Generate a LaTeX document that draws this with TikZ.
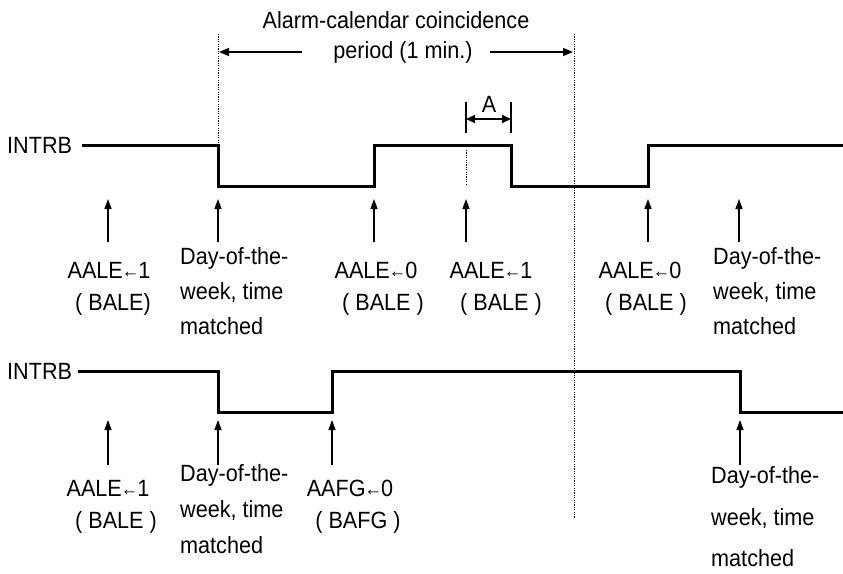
\documentclass[tikz,border=0pt]{standalone}
\usepackage{fontspec}
\setmainfont{Liberation Sans}[FakeStretch=0.92]
\usetikzlibrary{arrows.meta}
\newcommand\smallarrow{\kern-1pt{\fontsize{19}{19}\selectfont\raisebox{1pt}{←}}\kern-1pt}
\begin{document}
\begin{tikzpicture}[x=1pt,y=-1pt,
  wave/.style={line width=3pt},
  tick/.style={line width=1.4pt,-{Triangle[length=10pt,width=7pt]}},
  dim/.style={line width=1.7pt,-{Triangle[length=10pt,width=8pt]}},
  guide/.style={line width=0.9pt,dash pattern=on 1.2pt off 1.2pt},
  lbl/.style={font=\fontsize{23.5}{23.5}\selectfont, inner sep=0pt}]
\useasboundingbox (0,0) rectangle (843,573);

% ---------- header ----------
\node[lbl] (title1) at (396,20) {Alarm-calendar coincidence};
\node[lbl] (title2) at (403,52) {period (1 min.)};
\coordinate (g1t) at (218,34);
\coordinate (g1b) at (218,145);
\coordinate (g2t) at (574,34);
\coordinate (g2b) at (574,518);
\draw[guide] (g1t) -- (g1b);
\draw[guide] (g2t) -- (g2b);
\coordinate (pl) at (219,52);
\coordinate (pr) at (573,52);
\coordinate (pls) at (302,52);
\coordinate (prs) at (490,52);
\draw[dim] (pls) -- (pl);
\draw[dim] (prs) -- (pr);

% ---------- A dimension ----------
\coordinate (a1t) at (466,102); \coordinate (a1b) at (466,133);
\coordinate (a2t) at (511,102); \coordinate (a2b) at (511,133);
\draw[line width=1.4pt] (a1t) -- (a1b);
\draw[line width=1.4pt] (a2t) -- (a2b);
\coordinate (al) at (466,119); \coordinate (ar) at (511,119);
\draw[line width=1.7pt,{Triangle[length=9pt,width=8pt]}-{Triangle[length=9pt,width=8pt]}] (al) -- (ar);
\node[lbl] (alabel) at (489,104) {A};
\coordinate (a3t) at (466,150); \coordinate (a3b) at (466,185);
\draw[guide] (a3t) -- (a3b);

% ---------- top waveform ----------
\node[lbl,anchor=west] (sig1) at (7,145) {INTRB};
\draw[wave] (82,145) -- (218,145) -- (218,186) -- (374,186) -- (374,145)
  -- (511,145) -- (511,186) -- (648,186) -- (648,145) -- (843,145);

% top event arrows
\foreach \x/\n in {108/t1,218/t2,374/t3,466/t4,648/t5,739/t6}{
  \coordinate (\n tail) at (\x,242);
  \coordinate (\n tip) at (\x,199);
  \draw[tick] (\n tail) -- (\n tip);
}

% top labels
\node[lbl] (l1a) at (109,270) {AALE\smallarrow1};
\node[lbl] (l1b) at (113,304) {( BALE)};
\node[lbl,anchor=west] (l2a) at (180,258) {Day-of-the-};
\node[lbl,anchor=west] (l2b) at (180,292) {week, time};
\node[lbl,anchor=west] (l2c) at (180,326) {matched};
\node[lbl] (l3a) at (376,270) {AALE\smallarrow0};
\node[lbl] (l3b) at (383,304) {( BALE )};
\node[lbl] (l4a) at (491,270) {AALE\smallarrow1};
\node[lbl] (l4b) at (501,304) {( BALE )};
\node[lbl] (l5a) at (640,270) {AALE\smallarrow0};
\node[lbl] (l5b) at (646,304) {( BALE )};
\node[lbl,anchor=west] (l6a) at (713,258) {Day-of-the-};
\node[lbl,anchor=west] (l6b) at (713,292) {week, time};
\node[lbl,anchor=west] (l6c) at (713,326) {matched};

% ---------- bottom waveform ----------
\node[lbl,anchor=west] (sig2) at (7,371) {INTRB};
\draw[wave] (78,371) -- (218,371) -- (218,412) -- (332,412) -- (332,371)
  -- (740,371) -- (740,412) -- (843,412);

\foreach \x/\n in {108/b1,218/b2,332/b3,740/b4}{
  \coordinate (\n tail) at (\x,465);
  \coordinate (\n tip) at (\x,420);
  \draw[tick] (\n tail) -- (\n tip);
}

\node[lbl] (m1a) at (108,488) {AALE\smallarrow1};
\node[lbl] (m1b) at (116,522) {( BALE )};
\node[lbl,anchor=west] (m2a) at (180,475) {Day-of-the-};
\node[lbl,anchor=west] (m2b) at (180,510) {week, time};
\node[lbl,anchor=west] (m2c) at (180,545) {matched};
\node[lbl] (m3a) at (350,488) {AAFG\smallarrow0};
\node[lbl] (m3b) at (358,522) {( BAFG )};
\node[lbl,anchor=west] (m4a) at (711,477) {Day-of-the-};
\node[lbl,anchor=west] (m4b) at (711,518) {week, time};
\node[lbl,anchor=west] (m4c) at (711,558) {matched};
\end{tikzpicture}
\end{document}
